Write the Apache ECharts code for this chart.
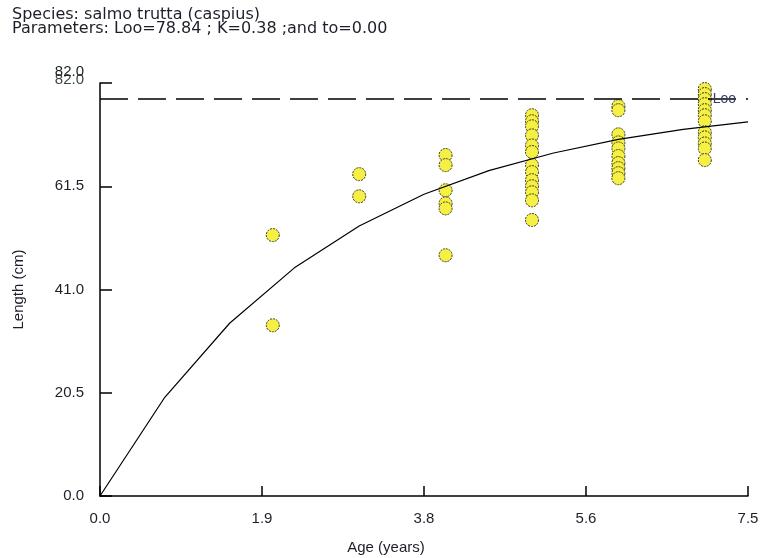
<!DOCTYPE html>
<html><head><meta charset="utf-8">
<script src="https://cdn.jsdelivr.net/npm/echarts/dist/echarts.min.js"></script>
<style>html,body{margin:0;padding:0;background:#fff}#c{width:764px;height:558px}</style>
</head><body><div id="c"></div>
<script>
// ---- data ----
const titleLines = ['Species: salmo trutta (caspius)', 'Parameters: Loo=78.84 ; K=0.38 ;and to=0.00'];
const ageGroups = [2, 3, 4, 5, 6, 7];
const lengthsAge2 = [51.8, 33.9];
const lengthsAge3 = [63.9, 59.5];
const lengthsAge4 = [67.7, 65.7, 60.7, 58.1, 57.1, 47.8];
const lengthsAge5 = [75.6, 74.4, 73.4, 71.6, 69.6, 68.3, 65.7, 64.3, 62.7, 61.5, 60.3, 58.7, 54.8];
const lengthsAge6 = [77.4, 76.6, 71.8, 70.2, 69.0, 67.5, 66.1, 65.1, 64.1, 63.1];
const lengthsAge7 = [80.8, 79.8, 78.8, 77.8, 76.6, 75.6, 74.4, 72.2, 71.2, 70.0, 69.0, 66.7];
const curveAges = [0, 0.75, 1.5, 2.25, 3.0, 3.75, 4.5, 5.25, 6.0, 6.75, 7.5];
const curveLengths = [0, 19.6, 34.3, 45.3, 53.6, 59.9, 64.6, 68.1, 70.8, 72.8, 74.3];
const lInfinity = 78.84;
const lInfLabel = 'Loo';
const xMin = 0, xMax = 7.5, xStep = 1.875;
const yMin = 0, yMax = 82, yStep = 20.5;
const xName = 'Age (years)', yName = 'Length (cm)';

// ---- build ----
const groups = [lengthsAge2, lengthsAge3, lengthsAge4, lengthsAge5, lengthsAge6, lengthsAge7];
const obs = [];
groups.forEach((g, i) => g.forEach(v => obs.push([ageGroups[i], v])));
const curve = curveAges.map((a, i) => [a, curveLengths[i]]);

const FONT = '"Liberation Sans", Arial, sans-serif';
const TFONT = '"DejaVu Sans", "Liberation Sans", sans-serif';
const TXT = '#1e1e2a';
const chart = echarts.init(document.getElementById('c'), null, {renderer: 'canvas'});
chart.setOption({
  animation: false,
  backgroundColor: '#ffffff',
  title: {
    text: titleLines.join('\n'),
    left: 7, top: 3,
    textStyle: {fontFamily: TFONT, fontSize: 16, fontWeight: 'normal', color: TXT, lineHeight: 14}
  },
  grid: {left: 100, right: 16, top: 83, bottom: 62, containLabel: false, outerBoundsMode: 'none'},
  xAxis: {
    type: 'value', min: xMin, max: xMax, interval: xStep,
    name: xName, nameLocation: 'middle', nameGap: 44,
    nameTextStyle: {fontFamily: FONT, fontSize: 15, color: TXT, padding: [0, 76, 0, 0]},
    axisLine: {lineStyle: {color: '#000', width: 1.5}},
    axisTick: {inside: true, length: 10, lineStyle: {color: '#000', width: 1.5}},
    axisLabel: {fontFamily: FONT, fontSize: 15, color: TXT, margin: 15,
      formatter: v => v.toFixed(1)},
    splitLine: {show: false}
  },
  yAxis: {
    type: 'value', min: yMin, max: yMax, interval: yStep,
    name: yName, nameLocation: 'middle', nameGap: 74, nameRotate: 90,
    nameTextStyle: {fontFamily: FONT, fontSize: 15, color: TXT},
    axisLine: {show: true, lineStyle: {color: '#000', width: 1.5}},
    axisTick: {show: true, inside: true, length: 12, lineStyle: {color: '#000', width: 1.5}},
    axisLabel: {fontFamily: FONT, fontSize: 15, color: TXT, margin: 16,
      formatter: v => v === yMax ? '{a|' + v.toFixed(1) + '}\n{b|' + v.toFixed(1) + '}' : v.toFixed(1),
      rich: {
        a: {fontFamily: FONT, fontSize: 15, color: '#3a4a3a', lineHeight: 8},
        b: {fontFamily: FONT, fontSize: 15, color: TXT, lineHeight: 7, padding: [0, 0, 31, 0]}
      }
    },
    splitLine: {show: false}
  },
  series: [
    {
      type: 'scatter', data: obs, symbol: 'circle', symbolSize: 13, z: 2,
      itemStyle: {color: '#f5f043', borderColor: '#3a3a20', borderWidth: 1, borderType: [2, 1], opacity: 1}
    },
    {
      type: 'line', data: curve, showSymbol: false, smooth: false, z: 3,
      lineStyle: {color: '#000', width: 1.2},
      markLine: {
        silent: true, symbol: ['none', 'none'], z: 4,
        lineStyle: {color: '#000', width: 1.5, type: [28, 10]},
        label: {show: false},
        data: [[{coord: [xMin, lInfinity]}, {coord: [xMax, lInfinity]}]]
      },
      markPoint: {
        symbol: 'circle', symbolSize: 0, z: 5,
        label: {show: true, position: 'right', distance: 8, formatter: lInfLabel,
          fontFamily: FONT, fontSize: 14, color: '#3c3c6a'},
        data: [{coord: [7, lInfinity]}]
      }
    }
  ]
});
</script>
</body></html>
